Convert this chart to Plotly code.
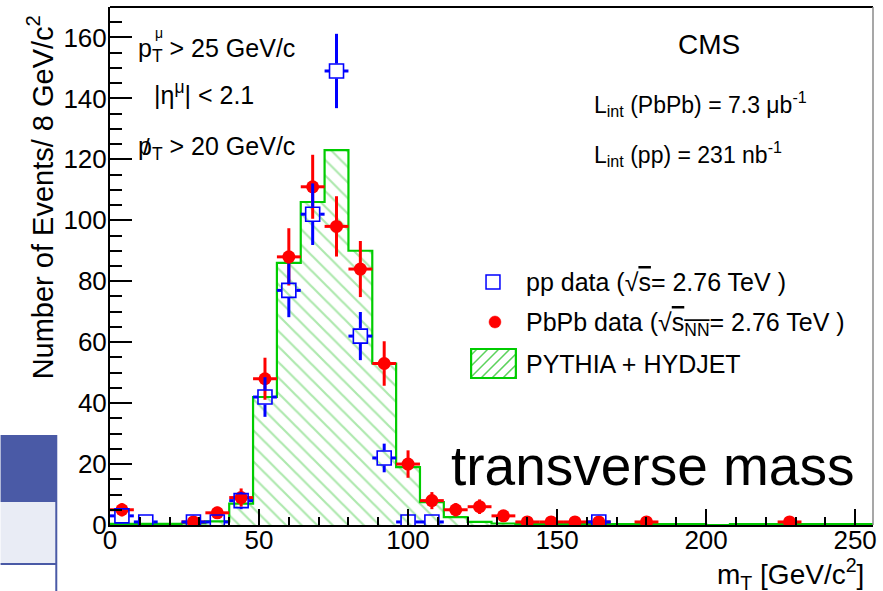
import plotly.graph_objects as go

# ---- data ----------------------------------------------------------------
# PYTHIA + HYDJET prediction, 8 GeV/c^2 bins
mc_bin_low = [0, 8, 16, 24, 32, 40, 48, 56, 64, 72, 80, 88, 96, 104, 112, 120,
              128, 136, 144, 152, 160, 168, 176, 184, 192, 200, 208, 216, 224,
              232, 240, 248]
mc_bin_high_last = 256
mc_counts = [0.4, 0.4, 0.4, 0.5, 1.2, 7, 42, 86, 106, 123, 90, 53, 19, 7.5, 2.6,
             1, 0.5, 0.3, 0.3, 0.3, 0.3, 0.3, 0.3, 0.3, 0.3, 0, 0.3, 0.3, 0.3,
             0.3, 0.3, 0.3]

# pp data
pp_mt = [4, 12, 28, 36, 44, 52, 60, 68, 76, 84, 92, 100, 108, 164]
pp_counts = [3, 1, 1, 1, 8, 42, 77, 102, 149, 62, 22, 1, 1, 1]
pp_err = [1.7, 1, 1, 1, 2.8, 6.5, 8.8, 10.1, 12.2, 7.9, 4.7, 1, 1, 1]

# PbPb data
pbpb_mt = [4, 28, 36, 44, 52, 60, 68, 76, 84, 92, 100, 108, 116, 124, 132,
           140, 148, 156, 164, 180, 228]
pbpb_counts = [5, 1, 4, 9, 48, 88, 111, 98, 84, 53, 20, 8, 5, 6, 3, 1, 1, 1,
               1, 1, 1]
pbpb_err = [2.2, 1, 2, 3, 6.9, 9.4, 10.5, 9.9, 9.2, 7.3, 4.5, 2.8, 2.2, 2.4,
            1.7, 1, 1, 1, 1, 1, 1]

BIN_HALF = 4  # half of the 8 GeV/c^2 bin width

x_ticks = [0, 50, 100, 150, 200, 250]
y_ticks = [0, 20, 40, 60, 80, 100, 120, 140, 160]

# ---- style ---------------------------------------------------------------
FONT = "Liberation Sans, Arial, Helvetica, sans-serif"
GREEN = "#00cc00"
HATCH = "#5cd25c"
BLUE = "#0000ff"
RED = "#ff0000"
TABLE_DARK = "#4a5aa6"
TABLE_LIGHT = "#e9ecf5"

W_PX, H_PX = 883, 591
L, R, T, B = 110, 877, 7, 525          # frame in page pixels
X_RANGE = [0, 256]
Y_RANGE = [0, 170]


def px(xp):
    return (xp - L) / (R - L)


def py(yp):
    return (B - yp) / (B - T)


fig = go.Figure()

# MC histogram drawn as a stepped, hatched area
step_x = mc_bin_low + [mc_bin_high_last]
step_y = mc_counts + [mc_counts[-1]]
fig.add_trace(go.Scatter(
    x=step_x, y=step_y, mode="lines", line_shape="hv",
    line=dict(color=GREEN, width=2.2),
    fill="tozeroy", fillcolor="rgba(255,255,255,0)",
    fillpattern=dict(shape="\\", fgcolor=HATCH, bgcolor="rgba(255,255,255,0)",
                     size=11, solidity=0.2),
    name="PYTHIA + HYDJET", showlegend=False, hoverinfo="skip"))

# PbPb points with full error bars (filled markers cover the crossing)
fig.add_trace(go.Scatter(
    x=pbpb_mt, y=pbpb_counts, mode="markers",
    marker=dict(symbol="circle", size=13, color=RED, line=dict(width=0)),
    error_y=dict(type="data", array=pbpb_err, color=RED, thickness=3, width=0),
    error_x=dict(type="constant", value=BIN_HALF, color=RED, thickness=3,
                 width=0),
    name="PbPb data", showlegend=False))

# pp error bars drawn only outside the open square marker
gap_x = 7.5 * (X_RANGE[1] - X_RANGE[0]) / (R - L)
gap_y = 7.5 * (Y_RANGE[1] - Y_RANGE[0]) / (B - T)
ex, ey = [], []
for xv, yv, ev in zip(pp_mt, pp_counts, pp_err):
    ex += [xv - BIN_HALF, xv - gap_x, None, xv + gap_x, xv + BIN_HALF, None]
    ey += [yv, yv, None, yv, yv, None]
    if ev > gap_y:
        ex += [xv, xv, None, xv, xv, None]
        ey += [yv + gap_y, yv + ev, None, yv - gap_y, yv - ev, None]
fig.add_trace(go.Scatter(x=ex, y=ey, mode="lines",
                         line=dict(color=BLUE, width=3),
                         showlegend=False, hoverinfo="skip"))
fig.add_trace(go.Scatter(
    x=pp_mt, y=pp_counts, mode="markers",
    marker=dict(symbol="square", size=14, color="rgba(255,255,255,0)",
                line=dict(color=BLUE, width=1.6)),
    name="pp data", showlegend=False))

# ---- shapes: frame, legend keys, table on the left ----------------------
shapes = []
# top and right frame lines
shapes.append(dict(type="line", xref="paper", yref="paper", x0=0, x1=1,
                   y0=1, y1=1, line=dict(color="black", width=2)))
shapes.append(dict(type="line", xref="paper", yref="paper", x0=1, x1=1,
                   y0=0, y1=1, line=dict(color="#8a8a8a", width=1.5)))

# legend keys
shapes.append(dict(type="rect", xref="paper", yref="paper",
                   x0=px(488), x1=px(502), y0=py(289), y1=py(275),
                   line=dict(color=BLUE, width=1.5)))
shapes.append(dict(type="circle", xref="paper", yref="paper",
                   x0=px(491), x1=px(503), y0=py(328), y1=py(316),
                   fillcolor=RED, line=dict(color=RED, width=0.5)))
bx0, bx1, by0, by1 = 473, 518, 349, 378
path = []
c = bx0 + by0 + 6
while c < bx1 + by1:
    xa = max(bx0, c - by1)
    xb = min(bx1, c - by0)
    if xb > xa:
        path.append("M%.5f,%.5f L%.5f,%.5f" % (px(xa), py(c - xa),
                                              px(xb), py(c - xb)))
    c += 11
shapes.append(dict(type="path", xref="paper", yref="paper", path=" ".join(path),
                   line=dict(color=HATCH, width=1.5)))
shapes.append(dict(type="rect", xref="paper", yref="paper",
                   x0=px(bx0), x1=px(bx1), y0=py(by1), y1=py(by0),
                   line=dict(color=GREEN, width=2.2)))

# slide table peeking in at the left edge
shapes.append(dict(type="rect", xref="paper", yref="paper", layer="below",
                   x0=px(0), x1=px(56), y0=py(502), y1=py(435),
                   fillcolor=TABLE_DARK, line=dict(width=0)))
shapes.append(dict(type="rect", xref="paper", yref="paper", layer="below",
                   x0=px(0), x1=px(56), y0=py(564), y1=py(502),
                   fillcolor=TABLE_LIGHT, line=dict(width=0)))
shapes.append(dict(type="line", xref="paper", yref="paper",
                   x0=px(0), x1=px(56), y0=py(564), y1=py(564),
                   line=dict(color=TABLE_DARK, width=2)))
shapes.append(dict(type="line", xref="paper", yref="paper",
                   x0=px(56), x1=px(56), y0=py(435), y1=py(591),
                   line=dict(color=TABLE_DARK, width=2)))

# ---- text ------------------------------------------------------------------
def note(text, x, y, size, xanchor="left", yanchor="middle", angle=0):
    return dict(text=text, xref="paper", yref="paper", x=px(x), y=py(y),
                xanchor=xanchor, yanchor=yanchor, showarrow=False,
                textangle=angle, font=dict(family=FONT, size=size,
                                           color="black"))


overs = "<span style='text-decoration:overline'>%s</span>"
annotations = [
    note("p<sub>T</sub> > 25 GeV/c", 136, 50, 25),
    note("μ", 153, 33, 14),
    note("|η<sup>μ</sup>| < 2.1", 152, 93, 25),
    note("p<sub>T</sub> > 20 GeV/c", 136, 148, 25),
    note("/", 141, 146, 24),
    note("CMS", 712, 45, 28, xanchor="center"),
    note("L<sub>int</sub> (PbPb) = 7.3 μb<sup>-1</sup>", 595, 104, 23),
    note("L<sub>int</sub> (pp) = 231 nb<sup>-1</sup>", 595, 154, 23),
    note("pp data (√" + overs % "s" + "= 2.76 TeV )", 526, 282, 25),
    note("PbPb data (√" + overs % "s<sub>NN</sub>" + "= 2.76 TeV )",
         526, 324, 25),
    note("PYTHIA + HYDJET", 526, 364, 25),
    note("transverse mass", 451, 466, 55),
    note("m<sub>T</sub> [GeV/c<sup>2</sup>]", 870, 574, 28, xanchor="right"),
    note("Number of Events/ 8 GeV/c<sup>2</sup>", 40, 197, 29,
         xanchor="center", angle=-90),
]

axis_common = dict(showgrid=False, zeroline=False, showline=True,
                   linecolor="black", linewidth=2, ticks="inside",
                   tickcolor="black", tickwidth=1.5,
                   tickfont=dict(family=FONT, size=26, color="black"))

fig.update_layout(
    width=W_PX, height=H_PX,
    margin=dict(l=L, r=W_PX - R, t=T, b=H_PX - B),
    paper_bgcolor="white", plot_bgcolor="white",
    font=dict(family=FONT, color="black"),
    xaxis=dict(range=X_RANGE, tickvals=x_ticks, ticklen=16,
               ticklabelstandoff=-9,
               minor=dict(dtick=10, ticks="inside", ticklen=8,
                          tickcolor="black", tickwidth=1.5),
               **axis_common),
    yaxis=dict(range=Y_RANGE, tickvals=y_ticks, ticklen=22,
               ticklabelstandoff=-4,
               minor=dict(dtick=5, ticks="inside", ticklen=12,
                          tickcolor="black", tickwidth=1.5),
               **axis_common),
    shapes=shapes, annotations=annotations, showlegend=False,
)

fig.write_html("out.html")
